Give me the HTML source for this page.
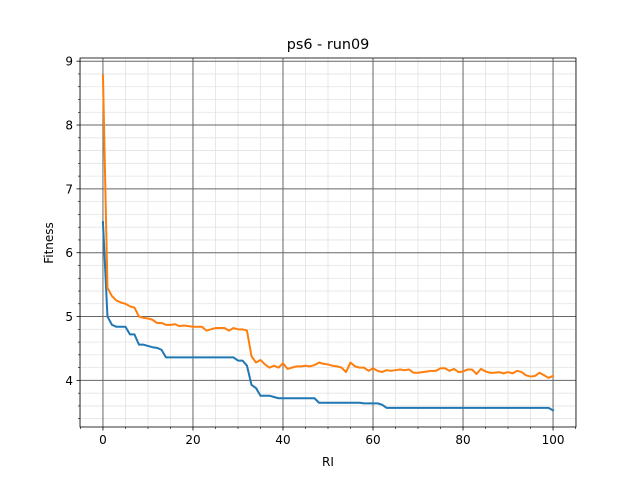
<!DOCTYPE html>
<html><head><meta charset="utf-8"><style>
body{margin:0;background:#fff;font-family:"Liberation Sans","DejaVu Sans",sans-serif;}
svg text{font-family:"DejaVu Sans","Liberation Sans",sans-serif;}
</style></head><body>
<svg id="chart" width="640" height="480" xmlns="http://www.w3.org/2000/svg">
<rect width="640" height="480" fill="#fff"/>
<g id="grid"></g><g id="series"></g><g id="axes"></g>
<text x="328" y="49" font-size="14.4" text-anchor="middle">ps6 - run09</text>
<text x="328" y="466" font-size="12" text-anchor="middle">RI</text>
<text transform="translate(53,243) rotate(-90)" font-size="12" text-anchor="middle">Fitness</text>
</svg>
<script>
const blueValues=[6.48,5.0,4.87,4.84,4.84,4.84,4.72,4.72,4.56,4.56,4.54,4.52,4.51,4.48,4.36,4.36,4.36,4.36,4.36,4.36,4.36,4.36,4.36,4.36,4.36,4.36,4.36,4.36,4.36,4.36,4.31,4.31,4.23,3.93,3.88,3.76,3.76,3.76,3.74,3.72,3.72,3.72,3.72,3.72,3.72,3.72,3.72,3.72,3.65,3.65,3.65,3.65,3.65,3.65,3.65,3.65,3.65,3.65,3.64,3.64,3.64,3.64,3.62,3.57,3.57,3.57,3.57,3.57,3.57,3.57,3.57,3.57,3.57,3.57,3.57,3.57,3.57,3.57,3.57,3.57,3.57,3.57,3.57,3.57,3.57,3.57,3.57,3.57,3.57,3.57,3.57,3.57,3.57,3.57,3.57,3.57,3.57,3.57,3.57,3.57,3.53];
const orangeValues=[8.78,5.45,5.32,5.25,5.22,5.2,5.16,5.14,5.0,4.98,4.97,4.95,4.9,4.9,4.87,4.87,4.88,4.85,4.86,4.85,4.84,4.84,4.84,4.78,4.8,4.82,4.82,4.82,4.78,4.82,4.8,4.8,4.78,4.38,4.28,4.32,4.25,4.2,4.23,4.2,4.27,4.18,4.2,4.22,4.22,4.23,4.22,4.24,4.28,4.26,4.25,4.23,4.22,4.2,4.13,4.28,4.22,4.2,4.2,4.15,4.19,4.15,4.13,4.16,4.15,4.16,4.17,4.16,4.17,4.12,4.12,4.13,4.14,4.15,4.15,4.19,4.19,4.15,4.18,4.13,4.14,4.17,4.17,4.1,4.18,4.14,4.12,4.12,4.13,4.11,4.13,4.11,4.15,4.13,4.08,4.06,4.07,4.12,4.08,4.04,4.07];
const xTicks=[0,20,40,60,80,100];
const yTicks=[4,5,6,7,8,9];
const NS="http://www.w3.org/2000/svg";
const L=80,R=576,T=58,B=427,xmin=-5.1,xmax=105.1,ymin=3.27,ymax=9.05;
const sx=v=>L+(v-xmin)/(xmax-xmin)*(R-L);
const sy=v=>B-(v-ymin)/(ymax-ymin)*(B-T);
function mk(tag,a,p){const e=document.createElementNS(NS,tag);for(const k in a)e.setAttribute(k,a[k]);p.appendChild(e);return e;}
const grid=document.getElementById('grid'),axes=document.getElementById('axes'),ser=document.getElementById('series');
for(let v=-5;v<=105;v+=5){if(v%20===0)continue;const l=mk('line',{x1:sx(v),x2:sx(v),y1:T,y2:B,stroke:'#e3e3e3','stroke-width':0.8},grid);

const t=mk('line',{x1:sx(v),x2:sx(v),y1:B,y2:B+2,stroke:'#000','stroke-width':0.6},axes);
}
for(let i=17;i<=45;i++){const v=i/5;if(i%5===0)continue;const l=mk('line',{x1:L,x2:R,y1:sy(v),y2:sy(v),stroke:'#e3e3e3','stroke-width':0.8},grid);

const t=mk('line',{x1:L-2,x2:L,y1:sy(v),y2:sy(v),stroke:'#000','stroke-width':0.6},axes);
}
xTicks.forEach(v=>{const l=mk('line',{x1:sx(v),x2:sx(v),y1:T,y2:B,stroke:'#666','stroke-width':1},grid);

mk('line',{x1:sx(v),x2:sx(v),y1:B,y2:B+3.5,stroke:'#000','stroke-width':0.8},axes);
const t=mk('text',{x:sx(v),y:B+17,'font-size':12,'text-anchor':'middle'},axes);t.textContent=v;
});
yTicks.forEach(v=>{const l=mk('line',{x1:L,x2:R,y1:sy(v),y2:sy(v),stroke:'#666','stroke-width':1},grid);

mk('line',{x1:L-3.5,x2:L,y1:sy(v),y2:sy(v),stroke:'#000','stroke-width':0.8},axes);
const t=mk('text',{x:L-7,y:sy(v)+4.5,'font-size':12,'text-anchor':'end'},axes);t.textContent=v;
});
const fr=mk('rect',{x:L,y:T,width:R-L,height:B-T,fill:'none',stroke:'#000','stroke-width':0.8},axes);

function line(vals,color,name){const d=vals.map((v,i)=>(i?'L':'M')+sx(i).toFixed(2)+','+sy(v).toFixed(2)).join('');
const p=mk('path',{d:d,fill:'none',stroke:color,'stroke-width':2,'stroke-linejoin':'round','stroke-linecap':'square'},ser);
}
line(blueValues,'#1f77b4','blue-series-line');
line(orangeValues,'#ff7f0e','orange-series-line');
</script>
</body></html>
